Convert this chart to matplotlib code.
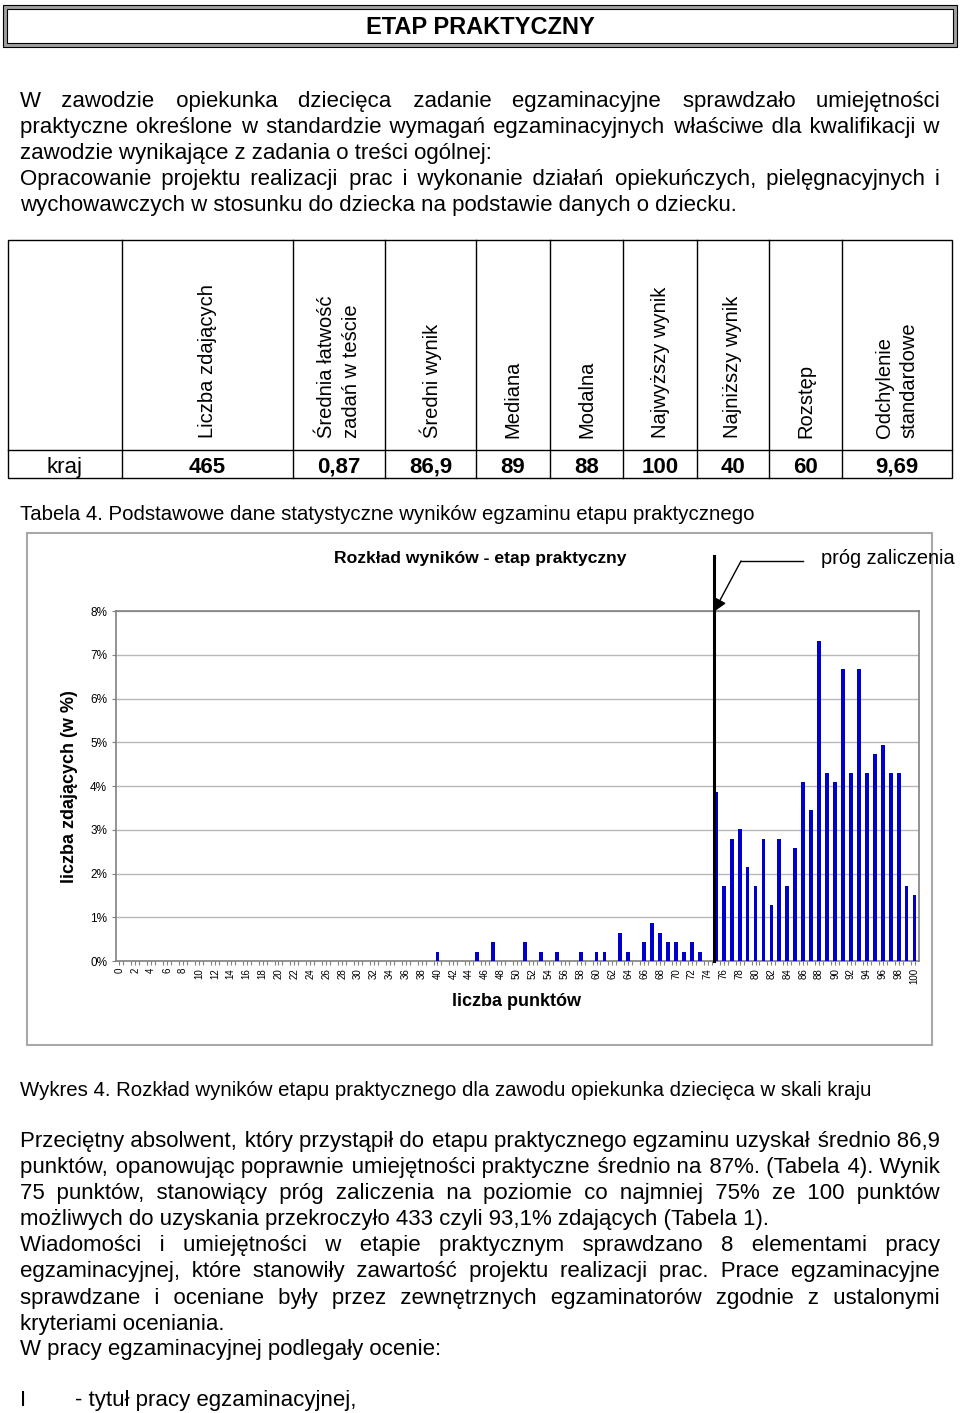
import matplotlib
matplotlib.use('Agg')
import matplotlib.pyplot as plt
from matplotlib.patches import Rectangle

plt.rcParams['font.family'] = ['Liberation Sans', 'DejaVu Sans']

# ---------------- data ----------------
page_title = "ETAP PRAKTYCZNY"

intro_lines = [
    ("W zawodzie opiekunka dziecięca zadanie egzaminacyjne sprawdzało umiejętności", True),
    ("praktyczne określone w standardzie wymagań egzaminacyjnych właściwe dla kwalifikacji w", True),
    ("zawodzie wynikające z zadania o treści ogólnej:", False),
    ("Opracowanie projektu realizacji prac i wykonanie działań opiekuńczych, pielęgnacyjnych i", True),
    ("wychowawczych w stosunku do dziecka na podstawie danych o dziecku.", False),
]

table_headers = ["Liczba zdających", "Średnia łatwość\nzadań w teście", "Średni wynik",
                 "Mediana", "Modalna", "Najwyższy wynik", "Najniższy wynik", "Rozstęp",
                 "Odchylenie\nstandardowe"]
table_row_label = "kraj"
table_values = ["465", "0,87", "86,9", "89", "88", "100", "40", "60", "9,69"]
table_caption = "Tabela 4. Podstawowe dane statystyczne wyników egzaminu etapu praktycznego"

chart_title = "Rozkład wyników - etap praktyczny"
x_label = "liczba punktów"
y_label = "liczba zdających (w %)"
threshold_label = "próg zaliczenia"
pass_threshold = 75
total_examinees = 465

score_points = list(range(0, 101))
# number of examinees with a given score (scores not listed: 0)
scored = [40, 45, 47, 51, 53, 55, 58, 60, 61, 63, 64, 66, 67, 68, 69, 70, 71, 72, 73,
          75, 76, 77, 78, 79, 80, 81, 82, 83, 84, 85, 86, 87, 88, 89, 90, 91, 92, 93, 94,
          95, 96, 97, 98, 99, 100]
scored_counts = [1, 1, 2, 2, 1, 1, 1, 1, 1, 3, 1, 2, 4, 3, 2, 2, 1, 2, 1,
                 18, 8, 13, 14, 10, 8, 13, 6, 13, 8, 12, 19, 16, 34, 20, 19, 31, 20, 31, 20,
                 22, 23, 20, 20, 8, 7]
y_ticks = [0, 1, 2, 3, 4, 5, 6, 7, 8]

chart_caption = ("Wykres 4. Rozkład wyników etapu praktycznego dla zawodu opiekunka "
                 "dziecięca w skali kraju")

body_lines = [
    ("Przeciętny absolwent, który przystąpił do etapu praktycznego egzaminu uzyskał średnio 86,9", True),
    ("punktów, opanowując poprawnie umiejętności praktyczne średnio na 87%. (Tabela 4). Wynik", True),
    ("75 punktów, stanowiący próg zaliczenia na poziomie co najmniej 75% ze 100 punktów", True),
    ("możliwych do uzyskania przekroczyło 433 czyli 93,1% zdających (Tabela 1).", False),
    ("Wiadomości i umiejętności w etapie praktycznym sprawdzano 8 elementami pracy", True),
    ("egzaminacyjnej, które stanowiły zawartość projektu realizacji prac. Prace egzaminacyjne", True),
    ("sprawdzane i oceniane były przez zewnętrznych egzaminatorów zgodnie z ustalonymi", True),
    ("kryteriami oceniania.", False),
    ("W pracy egzaminacyjnej podlegały ocenie:", False),
]
list_marker = "I"
list_item = "- tytuł pracy egzaminacyjnej,"

# ---------------- figure ----------------
W, H = 960, 1413
fig = plt.figure(figsize=(W / 100, H / 100), dpi=100)
fig.patch.set_facecolor('white')

bg = fig.add_axes([0, 0, 1, 1], zorder=0)
bg.set_xlim(0, W)
bg.set_ylim(H, 0)
bg.axis('off')

fig.canvas.draw()
renderer = fig.canvas.get_renderer()

BODY_FS = 16
SP, HAIR = ' ', '\u200a'


def text_width(s, fs):
    t = bg.text(0, 0, s, fontsize=fs)
    w = t.get_window_extent(renderer).width
    t.remove()
    return w


def unit_width(ch, fs):
    return (text_width('x' + ch * 20 + 'x', fs) - text_width('xx', fs)) / 20


space_w = unit_width(SP, BODY_FS)
hair_w = unit_width(HAIR, BODY_FS)


def write_line(text, yb, justify, x0=20, x1=940, fs=BODY_FS):
    if not justify:
        bg.text(x0, yb, text, fontsize=fs, va='baseline', ha='left')
        return
    words = text.split(' ')
    total_words = sum(text_width(w, fs) for w in words)
    gap = (x1 - x0 - total_words) / (len(words) - 1)
    out = words[0]
    target, achieved = 0.0, 0.0
    for w in words[1:]:
        target += gap
        need = target - achieved
        n_sp = max(1, int(need // space_w))
        rest = need - n_sp * space_w
        n_h = max(0, int(round(rest / hair_w))) if hair_w > 0 else 0
        out += SP * n_sp + HAIR * n_h + w
        achieved += n_sp * space_w + n_h * hair_w
    bg.text(x0, yb, out, fontsize=fs, va='baseline', ha='left')


# title box
bg.add_patch(Rectangle((3, 5), 954, 42, facecolor='#a0a0a0', edgecolor='black', lw=0.8))
bg.add_patch(Rectangle((7, 9), 946, 34, facecolor='white', edgecolor='black', lw=0.8))
bg.text(480, 27, page_title, fontsize=17, fontweight='bold', ha='center', va='center')

# intro paragraph
for i, (line, just) in enumerate(intro_lines):
    write_line(line, 106.5 + 26 * i, just)

# table
tx0, tx1, ty0, ty1, ty_mid = 8, 952, 240, 478, 450
col_edges = [tx0, 122, 293, 385, 476, 550, 623, 697, 769, 842, tx1]
bg.add_patch(Rectangle((tx0, ty0), tx1 - tx0, ty1 - ty0, facecolor='none', edgecolor='black', lw=1))
bg.plot([tx0, tx1], [ty_mid, ty_mid], color='black', lw=1)
for xe in col_edges[1:-1]:
    bg.plot([xe, xe], [ty0, ty1], color='black', lw=1)
for i, (hdr, val) in enumerate(zip(table_headers, table_values)):
    xc = (col_edges[i + 1] + col_edges[i + 2]) / 2
    bg.text(xc, 438, hdr, fontsize=14.5, rotation=90, ha='center', va='bottom',
            multialignment='left', linespacing=1.35)
    bg.text(xc, 473, val, fontsize=16, fontweight='bold', ha='center', va='baseline')
bg.text((col_edges[0] + col_edges[1]) / 2, 473, table_row_label, fontsize=16,
        ha='center', va='baseline')
bg.text(20, 520, table_caption, fontsize=14.7, va='baseline')

# chart frame
bg.add_patch(Rectangle((27, 533), 905, 512, facecolor='none', edgecolor='#a8a8a8', lw=1.5))

# chart axes
px_l, px_r, px_t, px_b = 115.5, 918.5, 611, 961
ax = fig.add_axes([px_l / W, 1 - px_b / H, (px_r - px_l) / W, (px_b - px_t) / H], zorder=2)
counts = [0] * len(score_points)
for s, c in zip(scored, scored_counts):
    counts[score_points.index(s)] = c
pct = [c / total_examinees * 100 for c in counts]
ax.bar(score_points, pct, width=0.48, color='#0000cc', zorder=3)
ax.set_xlim(-0.5, 100.5)
ax.set_ylim(0, 8)
ax.set_yticks(y_ticks)
ax.set_yticklabels([f"{v}%" for v in y_ticks], fontsize=8.5)
ax.yaxis.grid(True, color='#b8b8b8', lw=1)
ax.set_axisbelow(True)
ax.set_xticks(score_points[::2])
ax.set_xticklabels([str(p) for p in score_points[::2]], rotation=90, fontsize=7)
ax.set_xticks([p + 0.5 for p in score_points[:-1]], minor=True)
ax.tick_params(axis='x', which='both', direction='out', length=3, width=0.8,
               color='#808080', pad=2)
ax.tick_params(axis='y', direction='out', length=3, width=0.8, color='#808080', pad=3)
for sp in ax.spines.values():
    sp.set_color('#808080')
    sp.set_linewidth(1.2)

# threshold line & annotation
thr_x = pass_threshold - 0.25
ax.plot([thr_x, thr_x], [0, 9.26], color='black', lw=2.2, clip_on=False, zorder=6)
bg.plot([741, 803], [561, 561], color='black', lw=1)
ax.annotate('', xy=(thr_x, 7.98), xycoords='data', xytext=(741, 561), textcoords=bg.transData,
            arrowprops=dict(arrowstyle='-|>', color='black', lw=1, mutation_scale=20,
                            shrinkA=0, shrinkB=0), annotation_clip=False, zorder=7)
bg.text(821, 558, threshold_label, fontsize=14.4, ha='left', va='center')

bg.text(480, 558, chart_title, fontsize=12.6, fontweight='bold', ha='center', va='center')
bg.text(517, 1002, x_label, fontsize=13, fontweight='bold', ha='center', va='center')
bg.text(70, 787, y_label, fontsize=13, fontweight='bold', rotation=90, ha='center', va='center')

bg.text(20, 1096, chart_caption, fontsize=14.7, va='baseline')

body_baselines = [1147.5, 1173.5, 1199.5, 1225.5, 1251.5, 1277.5, 1304, 1330, 1355.5]
for (line, just), yb in zip(body_lines, body_baselines):
    write_line(line, yb, just)
bg.text(20, 1406, list_marker, fontsize=16, va='baseline')
bg.text(75, 1406, list_item, fontsize=16, va='baseline')

fig.savefig('out.png', dpi=100)
